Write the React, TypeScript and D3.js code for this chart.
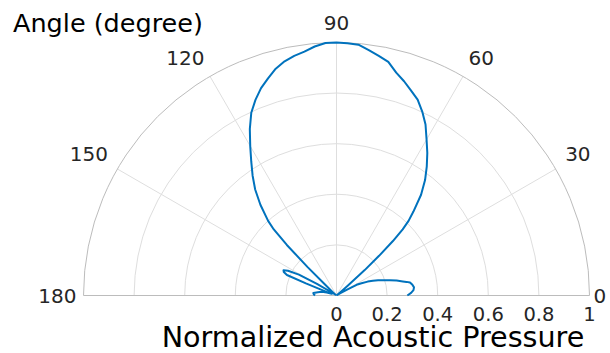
import React from "react";
import * as d3 from "d3";

// Polar directivity pattern (angle in degrees, normalized acoustic pressure)
const angles: number[] = [
  0, 2, 4, 6, 8, 10, 11, 12, 14, 16, 18, 20, 22, 24, 26, 28, 29, 30, 32, 35, 38, 40, 41, 42, 43, 44, 45, 46,
  47.5, 50, 52.5, 55, 57.5, 60, 62.5, 65, 67.5, 70, 72.5, 75, 77.5, 80, 82.5, 85, 87.5, 90, 92.5, 95, 97.5,
  100, 102.5, 105, 107.5, 110, 112.5, 115, 117.5, 120, 122.5, 125, 127.5, 130, 132.5, 133.5, 134.5, 135.5,
  136.5, 138, 141, 144, 147, 149, 151, 153, 154.5, 156, 157.5, 158.5, 159.5, 161, 163, 166, 170, 174, 177, 180,
];
const pressure: number[] = [
  0.28, 0.295, 0.305, 0.308, 0.303, 0.295, 0.282, 0.268, 0.245, 0.22, 0.195, 0.175, 0.155, 0.135, 0.11, 0.09,
  0.05, 0.02, 0.008, 0.004, 0.006, 0.02, 0.06, 0.15, 0.23, 0.31, 0.37, 0.41, 0.45, 0.52, 0.575, 0.622, 0.668,
  0.712, 0.762, 0.802, 0.838, 0.862, 0.888, 0.912, 0.946, 0.962, 0.978, 0.995, 0.998, 1.0, 0.999, 0.988, 0.972,
  0.962, 0.948, 0.928, 0.9, 0.872, 0.837, 0.797, 0.742, 0.682, 0.627, 0.578, 0.528, 0.468, 0.4, 0.36, 0.28,
  0.16, 0.06, 0.02, 0.008, 0.005, 0.02, 0.09, 0.17, 0.215, 0.232, 0.228, 0.212, 0.13, 0.05, 0.02, 0.04, 0.06,
  0.075, 0.092, 0.09, 0.085,
];
const radialTicks: number[] = [0, 0.2, 0.4, 0.6, 0.8, 1];
const radialTickLabels: string[] = ["0", "0.2", "0.4", "0.6", "0.8", "1"];
const angleTicks: number[] = [0, 30, 60, 90, 120, 150, 180];
const angleTickLabels: string[] = ["0", "30", "60", "90", "120", "150", "180"];
const angleTitle = "Angle (degree)";
const radialTitle = "Normalized Acoustic Pressure";

export default function App() {
  const W = 610;
  const H = 353;
  const cx = 336.5;
  const cy = 295.5;
  const R = 253;
  const font = "'DejaVu Sans', sans-serif";
  const r = d3.scaleLinear().domain([0, 1]).range([0, R]);
  const toRad = (deg: number) => ((90 - deg) * Math.PI) / 180;

  const data = angles.map((a, i) => ({ a, p: pressure[i] }));
  const line = d3
    .lineRadial<{ a: number; p: number }>()
    .angle((d) => toRad(d.a))
    .radius((d) => r(d.p));

  const arcPath = (rad: number) => {
    const p = d3.path();
    p.moveTo(rad, 0);
    p.arc(0, 0, rad, 0, -Math.PI, true);
    return p.toString();
  };

  return (
    <svg width={W} height={H} style={{ position: "absolute", left: 0, top: 0, background: "#fff" }}>
      <g transform={`translate(${cx},${cy})`}>
        {radialTicks.slice(1, -1).map((t) => (
          <path key={"c" + t} d={arcPath(r(t))} fill="none" stroke="#dedede" strokeWidth={1} />
        ))}
        {angleTicks.slice(1, -1).map((a) => {
          const th = (a * Math.PI) / 180;
          return (
            <line
              key={"s" + a}
              x1={0}
              y1={0}
              x2={R * Math.cos(th)}
              y2={-R * Math.sin(th)}
              stroke="#dedede"
              strokeWidth={1}
            />
          );
        })}
        <path d={arcPath(R) + `Z`} fill="none" stroke="#bcbcbc" strokeWidth={1} />
        <path
          d={line(data) ?? ""}
          fill="none"
          stroke="#0072BD"
          strokeWidth={2}
          strokeLinejoin="round"
        />
        {angleTicks.map((a, i) => {
          const th = (a * Math.PI) / 180;
          let x = 264 * Math.cos(th);
          let y = -263 * Math.sin(th) - 3;
          let anchor: "start" | "middle" | "end" = a < 90 ? "start" : a > 90 ? "end" : "middle";
          let dy = "0";
          if (a === 0) {
            x = R + 4;
            y = 0;
            dy = "0.35em";
          } else if (a === 180) {
            x = -R - 7;
            y = 0;
            dy = "0.35em";
          }
          return (
            <text
              key={"at" + a}
              x={x}
              y={y}
              dy={dy}
              textAnchor={anchor}
              fontFamily={font}
              fontSize={20}
              fill="#262626"
            >
              {angleTickLabels[i]}
            </text>
          );
        })}
        {radialTicks.map((t, i) => (
          <text
            key={"rt" + t}
            x={r(t)}
            y={25.5}
            textAnchor="middle"
            fontFamily={font}
            fontSize={19.5}
            fill="#262626"
          >
            {radialTickLabels[i]}
          </text>
        ))}
      </g>
      <text x={13} y={32} fontFamily={font} fontSize={25.5} fill="#000">
        {angleTitle}
      </text>
      <text x={373} y={346.5} textAnchor="middle" fontFamily={font} fontSize={28.6} fill="#000">
        {radialTitle}
      </text>
    </svg>
  );
}
